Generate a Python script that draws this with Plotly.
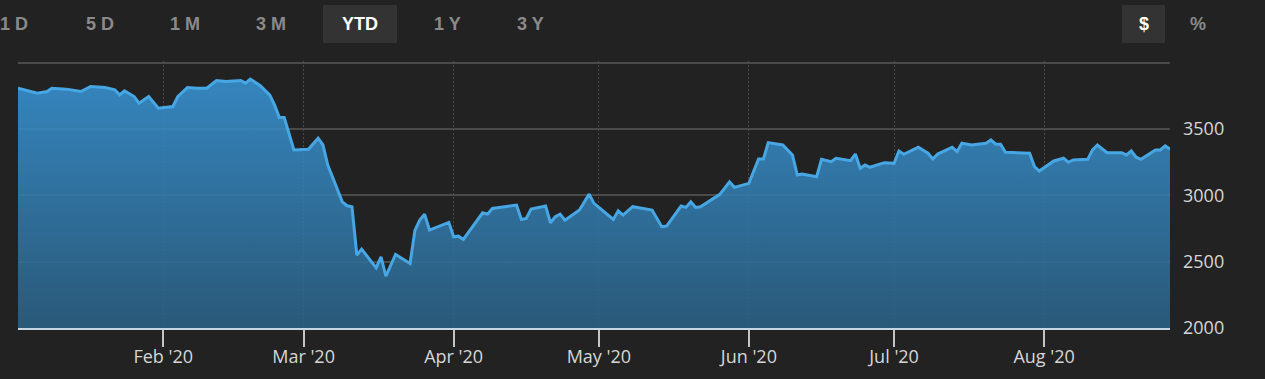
import plotly.graph_objects as go

# ---- data ----
dates = [
    "2020-01-02", "2020-01-04", "2020-01-06", "2020-01-08", "2020-01-09", "2020-01-12",
    "2020-01-15", "2020-01-17", "2020-01-20", "2020-01-22", "2020-01-23", "2020-01-24",
    "2020-01-26", "2020-01-27", "2020-01-29", "2020-01-31", "2020-02-03", "2020-02-04",
    "2020-02-06", "2020-02-08", "2020-02-10", "2020-02-12", "2020-02-14", "2020-02-17",
    "2020-02-18", "2020-02-19", "2020-02-21", "2020-02-23", "2020-02-24", "2020-02-25",
    "2020-02-26", "2020-02-28", "2020-03-02", "2020-03-04", "2020-03-05", "2020-03-06",
    "2020-03-09", "2020-03-10", "2020-03-11", "2020-03-12", "2020-03-13", "2020-03-16",
    "2020-03-17", "2020-03-18", "2020-03-20", "2020-03-23", "2020-03-24", "2020-03-25",
    "2020-03-26", "2020-03-27", "2020-03-31", "2020-04-01", "2020-04-02", "2020-04-03",
    "2020-04-07", "2020-04-08", "2020-04-09", "2020-04-14", "2020-04-15", "2020-04-16",
    "2020-04-17", "2020-04-20", "2020-04-21", "2020-04-22", "2020-04-23", "2020-04-24",
    "2020-04-27", "2020-04-29", "2020-04-30", "2020-05-04", "2020-05-05", "2020-05-06",
    "2020-05-08", "2020-05-12", "2020-05-14", "2020-05-15", "2020-05-18", "2020-05-19",
    "2020-05-20", "2020-05-21", "2020-05-22", "2020-05-26", "2020-05-28", "2020-05-29",
    "2020-06-01", "2020-06-03", "2020-06-04", "2020-06-05", "2020-06-08", "2020-06-10",
    "2020-06-11", "2020-06-12", "2020-06-15", "2020-06-16", "2020-06-18", "2020-06-19",
    "2020-06-22", "2020-06-23", "2020-06-24", "2020-06-25", "2020-06-26", "2020-06-29",
    "2020-07-01", "2020-07-02", "2020-07-03", "2020-07-06", "2020-07-08", "2020-07-09",
    "2020-07-10", "2020-07-13", "2020-07-14", "2020-07-15", "2020-07-17", "2020-07-20",
    "2020-07-21", "2020-07-22", "2020-07-23", "2020-07-24", "2020-07-29", "2020-07-30",
    "2020-07-31", "2020-08-03", "2020-08-05", "2020-08-06", "2020-08-07", "2020-08-10",
    "2020-08-11", "2020-08-12", "2020-08-14", "2020-08-17", "2020-08-18", "2020-08-19",
    "2020-08-20", "2020-08-21", "2020-08-24", "2020-08-25", "2020-08-26", "2020-08-27",
]
values = [
    3807, 3787, 3770, 3782, 3807, 3800,
    3782, 3820, 3812, 3795, 3757, 3787,
    3744, 3694, 3744, 3656, 3669, 3744,
    3812, 3807, 3807, 3865, 3857, 3865,
    3845, 3875, 3827, 3757, 3681, 3586,
    3586, 3342, 3347, 3430, 3379, 3228,
    2951, 2921, 2914, 2549, 2594, 2453,
    2536, 2390, 2554, 2486, 2735, 2813,
    2858, 2738, 2796, 2687, 2692, 2667,
    2868, 2858, 2901, 2926, 2818, 2826,
    2896, 2919, 2793, 2838, 2858, 2813,
    2889, 3009, 2939, 2818, 2883, 2851,
    2914, 2889, 2763, 2768, 2919, 2909,
    2951, 2909, 2914, 3007, 3102, 3060,
    3090, 3274, 3274, 3397, 3379, 3304,
    3153, 3160, 3140, 3271, 3253, 3279,
    3261, 3311, 3203, 3228, 3211, 3246,
    3241, 3334, 3309, 3362, 3317, 3274,
    3311, 3362, 3329, 3392, 3379, 3392,
    3417, 3385, 3385, 3324, 3317, 3216,
    3183, 3259, 3279, 3249, 3266, 3271,
    3342, 3379, 3321, 3321, 3304, 3334,
    3287, 3271, 3342, 3342, 3372, 3349,
]

x_ticks = ["2020-02-01", "2020-03-01", "2020-04-01", "2020-05-01",
           "2020-06-01", "2020-07-01", "2020-08-01"]
y_ticks = [2000, 2500, 3000, 3500, 4000]
y_ticktext = ["2000", "2500", "3000", "3500", ""]

range_buttons = ["1 D", "5 D", "1 M", "3 M", "YTD", "1 Y", "3 Y"]
active_range = "YTD"
unit_buttons = ["$", "%"]
active_unit = "$"

# ---- styling ----
BG = "#222222"
W, H = 1265, 379
ML, MR, MT, MB = 18, 95, 61, 51
PW = W - ML - MR
PH = H - MT - MB

def px_x(px):
    return (px - ML) / PW

def px_y(py):
    return (H - MB - py) / PH

fig = go.Figure()
fig.add_trace(go.Scatter(
    x=dates, y=values, mode="lines",
    line=dict(color="#47a7e4", width=3),
    fill="tozeroy",
    fillgradient=dict(
        type="vertical",
        colorscale=[[0, "rgba(43,98,135,0.86)"], [1, "rgba(56,150,216,0.86)"]],
        start=2000, stop=3900,
    ),
    hoverinfo="skip",
))

annotations = []
shapes = []
btn_centers = [14, 100, 185, 271, 360, 447, 530]
for label, cx in zip(range_buttons, btn_centers):
    active = label == active_range
    if active:
        shapes.append(dict(type="rect", xref="paper", yref="paper",
                           x0=px_x(323), x1=px_x(397), y0=px_y(43), y1=px_y(5),
                           fillcolor="#333333", line=dict(width=0), layer="below"))
    annotations.append(dict(
        text=label, xref="paper", yref="paper", x=px_x(cx), y=px_y(24),
        xanchor="center", yanchor="middle", showarrow=False,
        font=dict(family="Liberation Sans, Arial", size=18, weight="bold",
                  color="#ffffff" if active else "#8a8a8a"),
    ))
for label, cx in zip(unit_buttons, [1144, 1198]):
    active = label == active_unit
    if active:
        shapes.append(dict(type="rect", xref="paper", yref="paper",
                           x0=px_x(1122), x1=px_x(1165), y0=px_y(43), y1=px_y(5),
                           fillcolor="#333333", line=dict(width=0), layer="below"))
    annotations.append(dict(
        text=label, xref="paper", yref="paper", x=px_x(cx), y=px_y(24),
        xanchor="center", yanchor="middle", showarrow=False,
        font=dict(family="Liberation Sans, Arial", size=18, weight="bold",
                  color="#ffffff" if active else "#8a8a8a"),
    ))

fig.update_layout(
    width=W, height=H,
    margin=dict(l=ML, r=MR, t=MT, b=MB, pad=0, autoexpand=False),
    paper_bgcolor=BG, plot_bgcolor=BG,
    showlegend=False, hovermode=False,
    annotations=annotations, shapes=shapes,
    font=dict(family="Open Sans, Noto Sans, sans-serif", color="#d6d6d6"),
    xaxis=dict(
        type="date", range=["2020-01-02", "2020-08-27"],
        tickvals=x_ticks, tickformat="%b '%y",
        ticks="outside", ticklen=17, tickwidth=2, tickcolor="#c4c4c4",
        ticklabelstandoff=-6,
        showline=True, linecolor="#c6d6e2", linewidth=2,
        showgrid=True, gridcolor="#4a4a4a", gridwidth=1, griddash="2px,2px",
        zeroline=False, tickfont=dict(size=18, color="#d6d6d6"),
        fixedrange=True, automargin=False,
    ),
    yaxis=dict(
        side="right", range=[2000, 4012],
        tickvals=y_ticks, ticktext=y_ticktext,
        ticks="", ticklabelstandoff=12,
        showgrid=True, gridcolor="#4a4a4a", gridwidth=2,
        zeroline=False, showline=False,
        tickfont=dict(size=18, color="#d6d6d6"),
        fixedrange=True, automargin=False,
    ),
)

fig.write_html(
    "out.html",
    config={"displayModeBar": False},
    post_script="document.body.style.margin='0px';document.body.style.background='#222222';",
)
